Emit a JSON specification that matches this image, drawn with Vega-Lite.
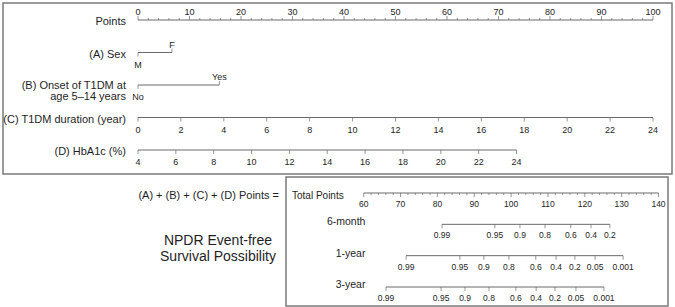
{
  "$schema": "https://vega.github.io/schema/vega-lite/v6.json",
  "padding": {"left": 2, "top": 2, "right": 0, "bottom": 0},
  "spacing": 1,
  "config": {
    "view": {"stroke": null},
    "font": "Liberation Sans",
    "text": {"font": "Liberation Sans", "color": "#1e1e1e"},
    "tick": {"color": "#6a6a6a", "thickness": 1},
    "rule": {"color": "#6a6a6a", "strokeWidth": 1}
  },
  "datasets": {
    "topLines": [
      {"row": "Points", "from": 0, "to": 100},
      {"row": "Sex", "from": 0, "to": 6.6},
      {"row": "Onset", "from": 0, "to": 15.8},
      {"row": "Duration", "from": 0, "to": 100},
      {"row": "HbA1c", "from": 0, "to": 73.5}
    ],
    "topTicks": [
      {"row": "Points", "pts": 0, "label": "0", "dir": "up"},
      {"row": "Points", "pts": 10, "label": "10", "dir": "up"},
      {"row": "Points", "pts": 20, "label": "20", "dir": "up"},
      {"row": "Points", "pts": 30, "label": "30", "dir": "up"},
      {"row": "Points", "pts": 40, "label": "40", "dir": "up"},
      {"row": "Points", "pts": 50, "label": "50", "dir": "up"},
      {"row": "Points", "pts": 60, "label": "60", "dir": "up"},
      {"row": "Points", "pts": 70, "label": "70", "dir": "up"},
      {"row": "Points", "pts": 80, "label": "80", "dir": "up"},
      {"row": "Points", "pts": 90, "label": "90", "dir": "up"},
      {"row": "Points", "pts": 100, "label": "100", "dir": "up"},
      {"row": "Sex", "pts": 0, "label": "M", "dir": "down"},
      {"row": "Sex", "pts": 6.6, "label": "F", "dir": "up"},
      {"row": "Onset", "pts": 0, "label": "No", "dir": "down"},
      {"row": "Onset", "pts": 15.8, "label": "Yes", "dir": "up"},
      {"row": "Duration", "pts": 0, "label": "0", "dir": "down"},
      {"row": "Duration", "pts": 8.33, "label": "2", "dir": "down"},
      {"row": "Duration", "pts": 16.67, "label": "4", "dir": "down"},
      {"row": "Duration", "pts": 25, "label": "6", "dir": "down"},
      {"row": "Duration", "pts": 33.33, "label": "8", "dir": "down"},
      {"row": "Duration", "pts": 41.67, "label": "10", "dir": "down"},
      {"row": "Duration", "pts": 50, "label": "12", "dir": "down"},
      {"row": "Duration", "pts": 58.33, "label": "14", "dir": "down"},
      {"row": "Duration", "pts": 66.67, "label": "16", "dir": "down"},
      {"row": "Duration", "pts": 75, "label": "18", "dir": "down"},
      {"row": "Duration", "pts": 83.33, "label": "20", "dir": "down"},
      {"row": "Duration", "pts": 91.67, "label": "22", "dir": "down"},
      {"row": "Duration", "pts": 100, "label": "24", "dir": "down"},
      {"row": "HbA1c", "pts": 0, "label": "4", "dir": "down"},
      {"row": "HbA1c", "pts": 7.35, "label": "6", "dir": "down"},
      {"row": "HbA1c", "pts": 14.7, "label": "8", "dir": "down"},
      {"row": "HbA1c", "pts": 22.05, "label": "10", "dir": "down"},
      {"row": "HbA1c", "pts": 29.4, "label": "12", "dir": "down"},
      {"row": "HbA1c", "pts": 36.75, "label": "14", "dir": "down"},
      {"row": "HbA1c", "pts": 44.1, "label": "16", "dir": "down"},
      {"row": "HbA1c", "pts": 51.45, "label": "18", "dir": "down"},
      {"row": "HbA1c", "pts": 58.8, "label": "20", "dir": "down"},
      {"row": "HbA1c", "pts": 66.15, "label": "22", "dir": "down"},
      {"row": "HbA1c", "pts": 73.5, "label": "24", "dir": "down"}
    ],
    "pointsMinor": [
      {"row": "Points", "pts": 2}, {"row": "Points", "pts": 4}, {"row": "Points", "pts": 6}, {"row": "Points", "pts": 8},
      {"row": "Points", "pts": 12}, {"row": "Points", "pts": 14}, {"row": "Points", "pts": 16}, {"row": "Points", "pts": 18},
      {"row": "Points", "pts": 22}, {"row": "Points", "pts": 24}, {"row": "Points", "pts": 26}, {"row": "Points", "pts": 28},
      {"row": "Points", "pts": 32}, {"row": "Points", "pts": 34}, {"row": "Points", "pts": 36}, {"row": "Points", "pts": 38},
      {"row": "Points", "pts": 42}, {"row": "Points", "pts": 44}, {"row": "Points", "pts": 46}, {"row": "Points", "pts": 48},
      {"row": "Points", "pts": 52}, {"row": "Points", "pts": 54}, {"row": "Points", "pts": 56}, {"row": "Points", "pts": 58},
      {"row": "Points", "pts": 62}, {"row": "Points", "pts": 64}, {"row": "Points", "pts": 66}, {"row": "Points", "pts": 68},
      {"row": "Points", "pts": 72}, {"row": "Points", "pts": 74}, {"row": "Points", "pts": 76}, {"row": "Points", "pts": 78},
      {"row": "Points", "pts": 82}, {"row": "Points", "pts": 84}, {"row": "Points", "pts": 86}, {"row": "Points", "pts": 88},
      {"row": "Points", "pts": 92}, {"row": "Points", "pts": 94}, {"row": "Points", "pts": 96}, {"row": "Points", "pts": 98}
    ],
    "topTitles": [
      {"row": "Points", "title": "Points"},
      {"row": "Sex", "title": "(A) Sex"},
      {"row": "Duration", "title": "(C) T1DM duration (year)"},
      {"row": "HbA1c", "title": "(D) HbA1c (%)"}
    ],
    "botLines": [
      {"row": "Total", "from": 60, "to": 140},
      {"row": "6-month", "from": 81.25, "to": 126.8},
      {"row": "1-year", "from": 71.5, "to": 130.4},
      {"row": "3-year", "from": 66.05, "to": 125.2}
    ],
    "botTicks": [
      {"row": "Total", "total": 60, "label": "60"},
      {"row": "Total", "total": 70, "label": "70"},
      {"row": "Total", "total": 80, "label": "80"},
      {"row": "Total", "total": 90, "label": "90"},
      {"row": "Total", "total": 100, "label": "100"},
      {"row": "Total", "total": 110, "label": "110"},
      {"row": "Total", "total": 120, "label": "120"},
      {"row": "Total", "total": 130, "label": "130"},
      {"row": "Total", "total": 140, "label": "140"},
      {"row": "6-month", "total": 81.25, "label": "0.99"},
      {"row": "6-month", "total": 95.6, "label": "0.95"},
      {"row": "6-month", "total": 102.4, "label": "0.9"},
      {"row": "6-month", "total": 109.2, "label": "0.8"},
      {"row": "6-month", "total": 116.2, "label": "0.6"},
      {"row": "6-month", "total": 121.7, "label": "0.4"},
      {"row": "6-month", "total": 126.8, "label": "0.2"},
      {"row": "1-year", "total": 71.5, "label": "0.99"},
      {"row": "1-year", "total": 86.1, "label": "0.95"},
      {"row": "1-year", "total": 92.6, "label": "0.9"},
      {"row": "1-year", "total": 99.4, "label": "0.8"},
      {"row": "1-year", "total": 106.7, "label": "0.6"},
      {"row": "1-year", "total": 112.2, "label": "0.4"},
      {"row": "1-year", "total": 117.3, "label": "0.2"},
      {"row": "1-year", "total": 122.8, "label": "0.05"},
      {"row": "1-year", "total": 130.4, "label": "0.001"},
      {"row": "3-year", "total": 66.05, "label": "0.99"},
      {"row": "3-year", "total": 81.0, "label": "0.95"},
      {"row": "3-year", "total": 87.5, "label": "0.9"},
      {"row": "3-year", "total": 94.0, "label": "0.8"},
      {"row": "3-year", "total": 101.3, "label": "0.6"},
      {"row": "3-year", "total": 106.8, "label": "0.4"},
      {"row": "3-year", "total": 111.9, "label": "0.2"},
      {"row": "3-year", "total": 117.6, "label": "0.05"},
      {"row": "3-year", "total": 125.2, "label": "0.001"}
    ],
    "totalMinor": [
      {"row": "Total", "total": 62}, {"row": "Total", "total": 64}, {"row": "Total", "total": 66}, {"row": "Total", "total": 68},
      {"row": "Total", "total": 72}, {"row": "Total", "total": 74}, {"row": "Total", "total": 76}, {"row": "Total", "total": 78},
      {"row": "Total", "total": 82}, {"row": "Total", "total": 84}, {"row": "Total", "total": 86}, {"row": "Total", "total": 88},
      {"row": "Total", "total": 92}, {"row": "Total", "total": 94}, {"row": "Total", "total": 96}, {"row": "Total", "total": 98},
      {"row": "Total", "total": 102}, {"row": "Total", "total": 104}, {"row": "Total", "total": 106}, {"row": "Total", "total": 108},
      {"row": "Total", "total": 112}, {"row": "Total", "total": 114}, {"row": "Total", "total": 116}, {"row": "Total", "total": 118},
      {"row": "Total", "total": 122}, {"row": "Total", "total": 124}, {"row": "Total", "total": 126}, {"row": "Total", "total": 128},
      {"row": "Total", "total": 132}, {"row": "Total", "total": 134}, {"row": "Total", "total": 136}, {"row": "Total", "total": 138}
    ],
    "botTitles": [
      {"row": "6-month", "title": "6-month"},
      {"row": "1-year", "title": "1-year"},
      {"row": "3-year", "title": "3-year"}
    ],
    "leftNotes": [
      {"row": "Total", "note": "(A) + (B) + (C) + (D) Points ="},
      {"row": "6-month", "note": "NPDR Event-free\nSurvival Possibility"}
    ]
  },
  "vconcat": [
    {
      "width": 669,
      "height": 171,
      "view": {"stroke": "#7a7a7a", "strokeWidth": 1.5},
      "encoding": {
        "y": {"field": "row", "type": "nominal", "axis": null,
              "scale": {"type": "point", "domain": ["Points", "Sex", "Onset", "Duration", "HbA1c"], "range": [17, 147], "padding": 0}}
      },
      "layer": [
        {
          "data": {"name": "topLines"},
          "mark": {"type": "rule"},
          "encoding": {
            "x": {"field": "from", "type": "quantitative", "axis": null, "scale": {"domain": [-26.21, 103.69], "nice": false, "zero": false}},
            "x2": {"field": "to"}
          }
        },
        {
          "data": {"name": "topTicks"},
          "transform": [{"filter": "datum.dir == 'up'"}],
          "mark": {"type": "tick", "size": 4, "yOffset": -2},
          "encoding": {"x": {"field": "pts", "type": "quantitative"}}
        },
        {
          "data": {"name": "topTicks"},
          "transform": [{"filter": "datum.dir == 'down'"}],
          "mark": {"type": "tick", "size": 4, "yOffset": 2},
          "encoding": {"x": {"field": "pts", "type": "quantitative"}}
        },
        {
          "data": {"name": "pointsMinor"},
          "mark": {"type": "tick", "size": 2, "yOffset": -1},
          "encoding": {"x": {"field": "pts", "type": "quantitative"}}
        },
        {
          "data": {"name": "topTicks"},
          "transform": [{"filter": "datum.dir == 'up'"}],
          "mark": {"type": "text", "fontSize": 9, "dy": -8, "baseline": "middle"},
          "encoding": {"x": {"field": "pts", "type": "quantitative"}, "text": {"field": "label"}}
        },
        {
          "data": {"name": "topTicks"},
          "transform": [{"filter": "datum.dir == 'down'"}],
          "mark": {"type": "text", "fontSize": 9, "dy": 12, "baseline": "middle"},
          "encoding": {"x": {"field": "pts", "type": "quantitative"}, "text": {"field": "label"}}
        },
        {
          "data": {"name": "topTitles"},
          "mark": {"type": "text", "fontSize": 11, "align": "right", "baseline": "middle", "dy": 2},
          "encoding": {"x": {"datum": -2.33, "type": "quantitative"}, "text": {"field": "title"}}
        },
        {
          "data": {"values": [{"row": "Onset", "title": "(B) Onset of T1DM at\nage 5–14 years"}]},
          "mark": {"type": "text", "fontSize": 11, "align": "right", "baseline": "middle", "dy": 1, "lineBreak": "\n", "lineHeight": 11},
          "encoding": {"x": {"datum": -2.33, "type": "quantitative"}, "text": {"field": "title"}}
        }
      ]
    },
    {
      "spacing": 0,
      "hconcat": [
        {
          "width": 282,
          "height": 129,
          "data": {"name": "leftNotes"},
          "encoding": {
            "y": {"field": "row", "type": "nominal", "axis": null,
                  "scale": {"type": "point", "domain": ["Total", "6-month", "1-year", "3-year"], "range": [16, 110], "padding": 0}}
          },
          "layer": [
            {
              "transform": [{"filter": "datum.row == 'Total'"}],
              "mark": {"type": "text", "fontSize": 11, "align": "right", "baseline": "middle", "dy": 3},
              "encoding": {
                "x": {"datum": 0.9787, "type": "quantitative", "axis": null, "scale": {"domain": [0, 1], "nice": false}},
                "text": {"field": "note"}
              }
            },
            {
              "transform": [{"filter": "datum.row == '6-month'"}],
              "mark": {"type": "text", "fontSize": 14, "align": "center", "baseline": "middle", "dy": 17, "lineBreak": "\n", "lineHeight": 16},
              "encoding": {
                "x": {"datum": 0.7624, "type": "quantitative"},
                "text": {"field": "note"}
              }
            }
          ]
        },
        {
          "width": 382,
          "height": 129,
          "view": {"stroke": "#7a7a7a", "strokeWidth": 1.5},
          "encoding": {
            "y": {"field": "row", "type": "nominal", "axis": null,
                  "scale": {"type": "point", "domain": ["Total", "6-month", "1-year", "3-year"], "range": [16, 110], "padding": 0}}
          },
          "layer": [
            {
              "data": {"name": "botLines"},
              "mark": {"type": "rule"},
              "encoding": {
                "x": {"field": "from", "type": "quantitative", "axis": null, "scale": {"domain": [38.91, 142.58], "nice": false, "zero": false}},
                "x2": {"field": "to"}
              }
            },
            {
              "data": {"name": "botTicks"},
              "mark": {"type": "tick", "size": 4, "yOffset": 2},
              "encoding": {"x": {"field": "total", "type": "quantitative"}}
            },
            {
              "data": {"name": "totalMinor"},
              "mark": {"type": "tick", "size": 2, "yOffset": 1},
              "encoding": {"x": {"field": "total", "type": "quantitative"}}
            },
            {
              "data": {"name": "botTicks"},
              "mark": {"type": "text", "fontSize": 8.5, "dy": 11, "baseline": "middle"},
              "encoding": {"x": {"field": "total", "type": "quantitative"}, "text": {"field": "label"}}
            },
            {
              "data": {"values": [{"row": "Total", "title": "Total Points"}]},
              "mark": {"type": "text", "fontSize": 10, "align": "left", "baseline": "middle", "dy": 3},
              "encoding": {"x": {"datum": 40.54, "type": "quantitative"}, "text": {"field": "title"}}
            },
            {
              "data": {"name": "botTitles"},
              "mark": {"type": "text", "fontSize": 10.5, "align": "right", "baseline": "middle", "dy": -2},
              "encoding": {"x": {"datum": 60.46, "type": "quantitative"}, "text": {"field": "title"}}
            }
          ]
        }
      ]
    }
  ]
}
